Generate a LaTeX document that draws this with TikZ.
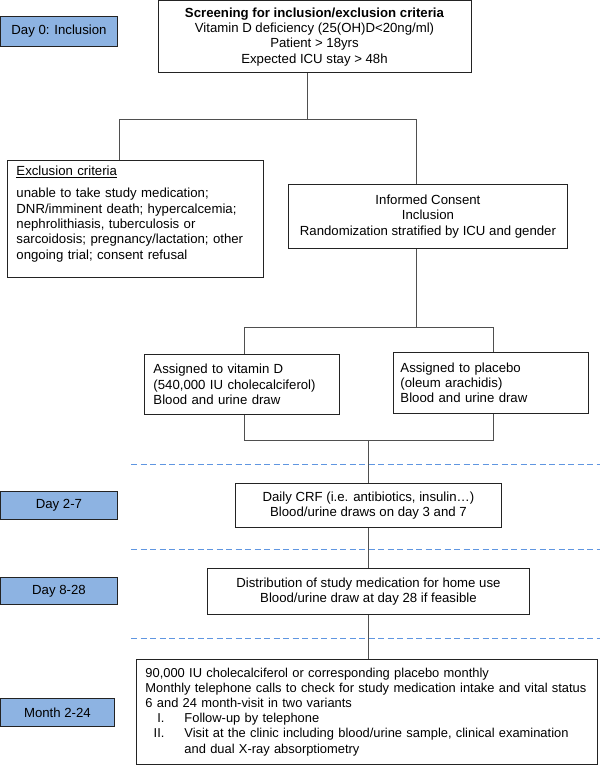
\documentclass[tikz,border=0pt]{standalone}
\usepackage{fontspec}
\setmainfont{Liberation Sans}
\definecolor{phasefill}{RGB}{141,179,226}
\definecolor{dashblue}{RGB}{95,150,225}
\definecolor{boxline}{RGB}{35,35,35}

\begin{document}
\begin{tikzpicture}[x=1pt, y=-1pt,
	every node/.style={font=\fontsize{13.2}{15.3}\selectfont},
	box/.style={draw=boxline, line width=0.9pt, inner sep=0pt},
	phasebox/.style={draw=boxline, fill=phasefill, line width=0.9pt, inner sep=0pt, anchor=north west, minimum width=117pt},
	link/.style={draw=boxline!80, line width=0.9pt},
	phasesep/.style={draw=dashblue, line width=0.9pt, dash pattern=on 6pt off 3.5pt}]
	\useasboundingbox (0,0) rectangle (600,765);

	%phases
	\node[phasebox, minimum height=30pt] (day0) at (0,16) {Day 0: Inclusion};
	\node[phasebox, minimum height=28pt] (day2) at (0,491) {Day 2-7};
	\node[phasebox, minimum height=27pt] (day8) at (0,577) {Day 8-28};
	\node[phasebox, minimum height=28pt, minimum width=114pt] (month) at (0,698) {Month 2-24};

	\draw[phasesep] (131,464) -- (600,464);
	\draw[phasesep] (131,549) -- (600,549);
	\draw[phasesep] (131,638) -- (600,638);

	%screening
	\node[box, anchor=north, minimum width=313pt, minimum height=71.5pt, align=center] (screen) at (314.5,0.5)
		{\textbf{Screening for inclusion/exclusion criteria}\\Vitamin D deficiency (25(OH)D<20ng/ml)\\Patient > 18yrs\\Expected ICU stay > 48h};

	\node[box, anchor=north west, minimum width=256pt, minimum height=117pt, inner xsep=9pt, text width=238pt] (excl) at (7,160)
		{\parbox[c][106pt][t]{238pt}{\raggedright\underline{Exclusion criteria}\\[7pt]unable to take study medication;\\DNR/imminent death; hypercalcemia;\\nephrolithiasis, tuberculosis or\\sarcoidosis; pregnancy/lactation; other\\ongoing trial; consent refusal}};

	\node[box, anchor=north west, minimum width=279pt, minimum height=64pt, align=center] (consent) at (288,184)
		{Informed Consent\\Inclusion\\Randomization stratified by ICU and gender};

	%arms
	\node[box, anchor=north west, minimum width=195pt, minimum height=60pt, inner xsep=9pt, text width=177pt, align=left] (vitd) at (144,354)
		{Assigned to vitamin D\\(540,000 IU cholecalciferol)\\Blood and urine draw};
	\node[box, anchor=north west, minimum width=195pt, minimum height=61pt, inner xsep=7pt, text width=181pt, align=left] (placebo) at (393,352)
		{Assigned to placebo\\(oleum arachidis)\\Blood and urine draw};

	%follow-up
	\node[box, anchor=north west, minimum width=266pt, minimum height=44pt, align=center] (crf) at (235,483)
		{Daily CRF (i.e. antibiotics, insulin…)\\Blood/urine draws on day 3 and 7};
	\node[box, anchor=north west, minimum width=322pt, minimum height=46pt, align=center] (distrib) at (207,568)
		{Distribution of study medication for home use\\Blood/urine draw at day 28 if feasible};
	\node[box, anchor=north west, minimum width=461pt, minimum height=105.5pt, inner xsep=9pt, text width=443pt, align=left,
		font=\fontsize{12.9}{15.2}\selectfont] (monthly) at (136,658.5)
		{90,000 IU cholecalciferol or corresponding placebo monthly\\
		\mbox{Monthly telephone calls to check for study medication intake and vital status}\\
		6 and 24 month-visit in two variants\\
		\makebox[19pt][r]{I.}\hspace{20pt}Follow-up by telephone\\
		\makebox[19pt][r]{II.}\hspace{20pt}\mbox{Visit at the clinic including blood/urine sample, clinical examination}\\
		\hspace*{39pt}and dual X-ray absorptiometry};

	%connectors
	\coordinate (fork1) at (307,119);
	\coordinate (exdrop) at (119,119);
	\coordinate (indrop) at (416,119);
	\draw[link] (screen.south -| fork1) -- (fork1);
	\draw[link] (excl.north -| exdrop) -- (exdrop) -- (indrop) -- (consent.north -| indrop);

	\coordinate (fork2) at (416,327);
	\coordinate (vdrop) at (244,327);
	\coordinate (pdrop) at (493,327);
	\draw[link] (consent.south -| fork2) -- (fork2);
	\draw[link] (vitd.north -| vdrop) -- (vdrop) -- (pdrop) -- (placebo.north -| pdrop);

	\coordinate (join) at (368,440);
	\coordinate (vjoin) at (244,440);
	\coordinate (pjoin) at (493,440);
	\draw[link] (vitd.south -| vjoin) -- (vjoin) -- (pjoin) -- (placebo.south -| pjoin);
	\draw[link] (join) -- (crf.north -| join);
	\draw[link] (crf.south -| join) -- (distrib.north -| join);
	\draw[link] (distrib.south -| join) -- (monthly.north -| join);
\end{tikzpicture}
\end{document}
